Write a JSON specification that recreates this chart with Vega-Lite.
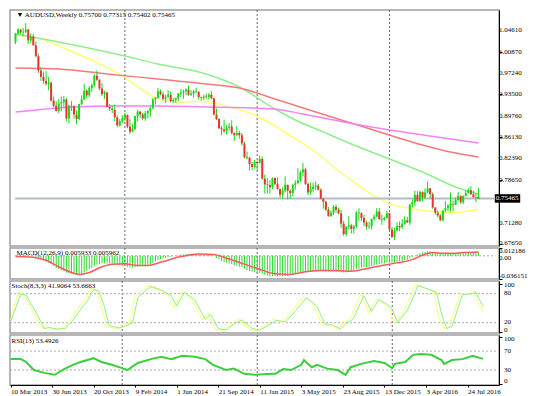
{
"$schema":"https://vega.github.io/schema/vega-lite/v6.json",
"padding":{"left":5,"top":8,"right":0,"bottom":0},
"background":"white",
"bounds":"flush",
"spacing":2,
"config":{"view":{"stroke":"#a0a0a0","strokeWidth":1.5},"axis":{"labelFont":"Liberation Serif","labelFontSize":7,"labelColor":"#000","tickColor":"#000","domainColor":"#000","grid":false,"tickSize":3,"labelPadding":2,"labelOverlap":false},"text":{"font":"Liberation Serif","fontSize":7,"color":"#000"}},
"datasets":{
"k":[
{"d":"2013-03-10","o":1.025,"h":1.041,"l":1.022,"c":1.040,"m":0.0},
{"d":"2013-03-17","o":1.040,"h":1.049,"l":1.038,"c":1.047,"m":0.001},
{"d":"2013-03-24","o":1.047,"h":1.048,"l":1.039,"c":1.042,"m":0.001},
{"d":"2013-03-31","o":1.042,"h":1.050,"l":1.035,"c":1.043,"m":0.001},
{"d":"2013-04-07","o":1.043,"h":1.058,"l":1.041,"c":1.047,"m":0.001},
{"d":"2013-04-14","o":1.047,"h":1.048,"l":1.022,"c":1.028,"m":0.0},
{"d":"2013-04-21","o":1.028,"h":1.040,"l":1.023,"c":1.035,"m":-0.0005},
{"d":"2013-04-28","o":1.035,"h":1.039,"l":1.018,"c":1.020,"m":-0.001},
{"d":"2013-05-05","o":1.020,"h":1.026,"l":0.999,"c":1.001,"m":-0.001},
{"d":"2013-05-12","o":1.001,"h":1.005,"l":0.972,"c":0.976,"m":-0.002},
{"d":"2013-05-19","o":0.976,"h":0.982,"l":0.958,"c":0.965,"m":-0.004},
{"d":"2013-05-26","o":0.965,"h":0.974,"l":0.953,"c":0.958,"m":-0.007},
{"d":"2013-06-02","o":0.958,"h":0.975,"l":0.950,"c":0.953,"m":-0.009},
{"d":"2013-06-09","o":0.953,"h":0.965,"l":0.942,"c":0.955,"m":-0.011},
{"d":"2013-06-16","o":0.955,"h":0.957,"l":0.922,"c":0.924,"m":-0.013},
{"d":"2013-06-23","o":0.924,"h":0.931,"l":0.912,"c":0.915,"m":-0.016},
{"d":"2013-06-30","o":0.915,"h":0.923,"l":0.905,"c":0.906,"m":-0.019},
{"d":"2013-07-07","o":0.906,"h":0.927,"l":0.902,"c":0.919,"m":-0.021},
{"d":"2013-07-14","o":0.919,"h":0.931,"l":0.906,"c":0.921,"m":-0.023},
{"d":"2013-07-21","o":0.921,"h":0.932,"l":0.913,"c":0.926,"m":-0.024},
{"d":"2013-07-28","o":0.926,"h":0.929,"l":0.888,"c":0.893,"m":-0.026},
{"d":"2013-08-04","o":0.893,"h":0.917,"l":0.885,"c":0.915,"m":-0.027},
{"d":"2013-08-11","o":0.915,"h":0.923,"l":0.906,"c":0.914,"m":-0.028},
{"d":"2013-08-18","o":0.914,"h":0.916,"l":0.893,"c":0.900,"m":-0.029},
{"d":"2013-08-25","o":0.900,"h":0.907,"l":0.883,"c":0.892,"m":-0.030},
{"d":"2013-09-01","o":0.892,"h":0.918,"l":0.890,"c":0.918,"m":-0.030},
{"d":"2013-09-08","o":0.918,"h":0.933,"l":0.916,"c":0.926,"m":-0.028},
{"d":"2013-09-15","o":0.926,"h":0.953,"l":0.925,"c":0.941,"m":-0.026},
{"d":"2013-09-22","o":0.941,"h":0.944,"l":0.928,"c":0.933,"m":-0.024},
{"d":"2013-09-29","o":0.933,"h":0.949,"l":0.930,"c":0.946,"m":-0.021},
{"d":"2013-10-06","o":0.946,"h":0.953,"l":0.939,"c":0.951,"m":-0.019},
{"d":"2013-10-13","o":0.951,"h":0.970,"l":0.947,"c":0.967,"m":-0.016},
{"d":"2013-10-20","o":0.967,"h":0.976,"l":0.958,"c":0.960,"m":-0.014},
{"d":"2013-10-27","o":0.960,"h":0.961,"l":0.942,"c":0.945,"m":-0.013},
{"d":"2013-11-03","o":0.945,"h":0.954,"l":0.932,"c":0.935,"m":-0.012},
{"d":"2013-11-10","o":0.935,"h":0.941,"l":0.927,"c":0.938,"m":-0.012},
{"d":"2013-11-17","o":0.938,"h":0.939,"l":0.911,"c":0.913,"m":-0.012},
{"d":"2013-11-24","o":0.913,"h":0.918,"l":0.906,"c":0.910,"m":-0.012},
{"d":"2013-12-01","o":0.910,"h":0.916,"l":0.902,"c":0.908,"m":-0.012},
{"d":"2013-12-08","o":0.908,"h":0.917,"l":0.888,"c":0.895,"m":-0.013},
{"d":"2013-12-15","o":0.895,"h":0.898,"l":0.878,"c":0.881,"m":-0.014},
{"d":"2013-12-22","o":0.881,"h":0.892,"l":0.879,"c":0.888,"m":-0.015},
{"d":"2013-12-29","o":0.888,"h":0.899,"l":0.885,"c":0.894,"m":-0.016},
{"d":"2014-01-05","o":0.894,"h":0.903,"l":0.889,"c":0.899,"m":-0.016},
{"d":"2014-01-12","o":0.899,"h":0.900,"l":0.876,"c":0.879,"m":-0.017},
{"d":"2014-01-19","o":0.879,"h":0.892,"l":0.866,"c":0.870,"m":-0.018},
{"d":"2014-01-26","o":0.870,"h":0.884,"l":0.869,"c":0.875,"m":-0.018},
{"d":"2014-02-02","o":0.875,"h":0.898,"l":0.873,"c":0.897,"m":-0.018},
{"d":"2014-02-09","o":0.897,"h":0.908,"l":0.888,"c":0.905,"m":-0.017},
{"d":"2014-02-16","o":0.905,"h":0.906,"l":0.894,"c":0.900,"m":-0.016},
{"d":"2014-02-23","o":0.900,"h":0.903,"l":0.890,"c":0.893,"m":-0.016},
{"d":"2014-03-02","o":0.893,"h":0.906,"l":0.889,"c":0.902,"m":-0.015},
{"d":"2014-03-09","o":0.902,"h":0.907,"l":0.893,"c":0.906,"m":-0.014},
{"d":"2014-03-16","o":0.906,"h":0.914,"l":0.896,"c":0.911,"m":-0.013},
{"d":"2014-03-23","o":0.911,"h":0.928,"l":0.909,"c":0.926,"m":-0.011},
{"d":"2014-03-30","o":0.926,"h":0.930,"l":0.917,"c":0.929,"m":-0.009},
{"d":"2014-04-06","o":0.929,"h":0.946,"l":0.927,"c":0.940,"m":-0.007},
{"d":"2014-04-13","o":0.940,"h":0.943,"l":0.933,"c":0.935,"m":-0.005},
{"d":"2014-04-20","o":0.935,"h":0.939,"l":0.924,"c":0.927,"m":-0.004},
{"d":"2014-04-27","o":0.927,"h":0.934,"l":0.920,"c":0.930,"m":-0.003},
{"d":"2014-05-04","o":0.930,"h":0.942,"l":0.929,"c":0.934,"m":-0.002},
{"d":"2014-05-11","o":0.934,"h":0.940,"l":0.921,"c":0.923,"m":-0.001},
{"d":"2014-05-18","o":0.923,"h":0.929,"l":0.920,"c":0.925,"m":0.0},
{"d":"2014-05-25","o":0.925,"h":0.929,"l":0.920,"c":0.928,"m":0.0005},
{"d":"2014-06-01","o":0.928,"h":0.937,"l":0.923,"c":0.936,"m":0.001},
{"d":"2014-06-08","o":0.936,"h":0.944,"l":0.930,"c":0.938,"m":0.002},
{"d":"2014-06-15","o":0.938,"h":0.943,"l":0.927,"c":0.940,"m":0.002},
{"d":"2014-06-22","o":0.940,"h":0.945,"l":0.933,"c":0.943,"m":0.003},
{"d":"2014-06-29","o":0.943,"h":0.950,"l":0.932,"c":0.934,"m":0.003},
{"d":"2014-07-06","o":0.934,"h":0.942,"l":0.932,"c":0.936,"m":0.003},
{"d":"2014-07-13","o":0.936,"h":0.942,"l":0.929,"c":0.940,"m":0.003},
{"d":"2014-07-20","o":0.940,"h":0.946,"l":0.937,"c":0.939,"m":0.003},
{"d":"2014-07-27","o":0.939,"h":0.940,"l":0.926,"c":0.930,"m":0.003},
{"d":"2014-08-03","o":0.930,"h":0.931,"l":0.924,"c":0.929,"m":0.002},
{"d":"2014-08-10","o":0.929,"h":0.934,"l":0.925,"c":0.931,"m":0.002},
{"d":"2014-08-17","o":0.931,"h":0.936,"l":0.927,"c":0.930,"m":0.002},
{"d":"2014-08-24","o":0.930,"h":0.937,"l":0.926,"c":0.934,"m":0.002},
{"d":"2014-08-31","o":0.934,"h":0.940,"l":0.926,"c":0.928,"m":0.002},
{"d":"2014-09-07","o":0.928,"h":0.929,"l":0.898,"c":0.900,"m":0.0},
{"d":"2014-09-14","o":0.900,"h":0.910,"l":0.890,"c":0.892,"m":-0.003},
{"d":"2014-09-21","o":0.892,"h":0.894,"l":0.875,"c":0.876,"m":-0.005},
{"d":"2014-09-28","o":0.876,"h":0.880,"l":0.864,"c":0.874,"m":-0.008},
{"d":"2014-10-05","o":0.874,"h":0.891,"l":0.868,"c":0.871,"m":-0.010},
{"d":"2014-10-12","o":0.871,"h":0.882,"l":0.865,"c":0.877,"m":-0.011},
{"d":"2014-10-19","o":0.877,"h":0.885,"l":0.872,"c":0.879,"m":-0.012},
{"d":"2014-10-26","o":0.879,"h":0.890,"l":0.865,"c":0.868,"m":-0.013},
{"d":"2014-11-02","o":0.868,"h":0.869,"l":0.854,"c":0.864,"m":-0.015},
{"d":"2014-11-09","o":0.864,"h":0.880,"l":0.863,"c":0.868,"m":-0.016},
{"d":"2014-11-16","o":0.868,"h":0.872,"l":0.858,"c":0.864,"m":-0.017},
{"d":"2014-11-23","o":0.864,"h":0.868,"l":0.846,"c":0.850,"m":-0.018},
{"d":"2014-11-30","o":0.850,"h":0.853,"l":0.824,"c":0.826,"m":-0.020},
{"d":"2014-12-07","o":0.826,"h":0.836,"l":0.822,"c":0.825,"m":-0.022},
{"d":"2014-12-14","o":0.825,"h":0.827,"l":0.803,"c":0.814,"m":-0.024},
{"d":"2014-12-21","o":0.814,"h":0.818,"l":0.804,"c":0.809,"m":-0.025},
{"d":"2014-12-28","o":0.809,"h":0.821,"l":0.806,"c":0.818,"m":-0.026},
{"d":"2015-01-04","o":0.818,"h":0.820,"l":0.803,"c":0.816,"m":-0.027},
{"d":"2015-01-11","o":0.816,"h":0.829,"l":0.815,"c":0.823,"m":-0.027},
{"d":"2015-01-18","o":0.823,"h":0.827,"l":0.787,"c":0.789,"m":-0.028},
{"d":"2015-01-25","o":0.789,"h":0.796,"l":0.763,"c":0.779,"m":-0.030},
{"d":"2015-02-01","o":0.779,"h":0.790,"l":0.763,"c":0.778,"m":-0.031},
{"d":"2015-02-08","o":0.778,"h":0.786,"l":0.763,"c":0.774,"m":-0.032},
{"d":"2015-02-15","o":0.774,"h":0.791,"l":0.771,"c":0.790,"m":-0.032},
{"d":"2015-02-22","o":0.790,"h":0.791,"l":0.777,"c":0.780,"m":-0.032},
{"d":"2015-03-01","o":0.780,"h":0.791,"l":0.770,"c":0.771,"m":-0.032},
{"d":"2015-03-08","o":0.771,"h":0.772,"l":0.756,"c":0.761,"m":-0.032},
{"d":"2015-03-15","o":0.761,"h":0.774,"l":0.754,"c":0.768,"m":-0.032},
{"d":"2015-03-22","o":0.768,"h":0.793,"l":0.765,"c":0.778,"m":-0.031},
{"d":"2015-03-29","o":0.778,"h":0.779,"l":0.753,"c":0.768,"m":-0.031},
{"d":"2015-04-05","o":0.768,"h":0.770,"l":0.754,"c":0.764,"m":-0.030},
{"d":"2015-04-12","o":0.764,"h":0.780,"l":0.758,"c":0.778,"m":-0.029},
{"d":"2015-04-19","o":0.778,"h":0.786,"l":0.770,"c":0.781,"m":-0.028},
{"d":"2015-04-26","o":0.781,"h":0.807,"l":0.780,"c":0.786,"m":-0.027},
{"d":"2015-05-03","o":0.786,"h":0.803,"l":0.783,"c":0.800,"m":-0.026},
{"d":"2015-05-10","o":0.800,"h":0.816,"l":0.793,"c":0.805,"m":-0.025},
{"d":"2015-05-17","o":0.805,"h":0.808,"l":0.778,"c":0.780,"m":-0.025},
{"d":"2015-05-24","o":0.780,"h":0.782,"l":0.760,"c":0.765,"m":-0.025},
{"d":"2015-05-31","o":0.765,"h":0.782,"l":0.761,"c":0.771,"m":-0.025},
{"d":"2015-06-07","o":0.771,"h":0.782,"l":0.765,"c":0.775,"m":-0.025},
{"d":"2015-06-14","o":0.775,"h":0.784,"l":0.769,"c":0.777,"m":-0.024},
{"d":"2015-06-21","o":0.777,"h":0.780,"l":0.768,"c":0.770,"m":-0.024},
{"d":"2015-06-28","o":0.770,"h":0.772,"l":0.753,"c":0.754,"m":-0.024},
{"d":"2015-07-05","o":0.754,"h":0.756,"l":0.737,"c":0.749,"m":-0.024},
{"d":"2015-07-12","o":0.749,"h":0.751,"l":0.733,"c":0.735,"m":-0.025},
{"d":"2015-07-19","o":0.735,"h":0.740,"l":0.723,"c":0.724,"m":-0.025},
{"d":"2015-07-26","o":0.724,"h":0.734,"l":0.723,"c":0.730,"m":-0.025},
{"d":"2015-08-02","o":0.730,"h":0.743,"l":0.726,"c":0.740,"m":-0.025},
{"d":"2015-08-09","o":0.740,"h":0.744,"l":0.730,"c":0.735,"m":-0.025},
{"d":"2015-08-16","o":0.735,"h":0.739,"l":0.727,"c":0.729,"m":-0.025},
{"d":"2015-08-23","o":0.729,"h":0.735,"l":0.704,"c":0.711,"m":-0.026},
{"d":"2015-08-30","o":0.711,"h":0.716,"l":0.690,"c":0.693,"m":-0.026},
{"d":"2015-09-06","o":0.693,"h":0.707,"l":0.689,"c":0.706,"m":-0.026},
{"d":"2015-09-13","o":0.706,"h":0.724,"l":0.701,"c":0.708,"m":-0.025},
{"d":"2015-09-20","o":0.708,"h":0.711,"l":0.694,"c":0.702,"m":-0.024},
{"d":"2015-09-27","o":0.702,"h":0.709,"l":0.694,"c":0.706,"m":-0.023},
{"d":"2015-10-04","o":0.706,"h":0.733,"l":0.704,"c":0.730,"m":-0.021},
{"d":"2015-10-11","o":0.730,"h":0.738,"l":0.716,"c":0.729,"m":-0.020},
{"d":"2015-10-18","o":0.729,"h":0.731,"l":0.716,"c":0.721,"m":-0.019},
{"d":"2015-10-25","o":0.721,"h":0.726,"l":0.707,"c":0.713,"m":-0.018},
{"d":"2015-11-01","o":0.713,"h":0.716,"l":0.701,"c":0.706,"m":-0.018},
{"d":"2015-11-08","o":0.706,"h":0.714,"l":0.702,"c":0.707,"m":-0.017},
{"d":"2015-11-15","o":0.707,"h":0.720,"l":0.701,"c":0.719,"m":-0.016},
{"d":"2015-11-22","o":0.719,"h":0.727,"l":0.716,"c":0.723,"m":-0.015},
{"d":"2015-11-29","o":0.723,"h":0.738,"l":0.722,"c":0.732,"m":-0.014},
{"d":"2015-12-06","o":0.732,"h":0.738,"l":0.717,"c":0.719,"m":-0.013},
{"d":"2015-12-13","o":0.719,"h":0.727,"l":0.709,"c":0.718,"m":-0.012},
{"d":"2015-12-20","o":0.718,"h":0.723,"l":0.716,"c":0.721,"m":-0.012},
{"d":"2015-12-27","o":0.721,"h":0.733,"l":0.720,"c":0.729,"m":-0.011},
{"d":"2016-01-03","o":0.729,"h":0.730,"l":0.699,"c":0.701,"m":-0.011},
{"d":"2016-01-10","o":0.701,"h":0.705,"l":0.686,"c":0.688,"m":-0.011},
{"d":"2016-01-17","o":0.688,"h":0.704,"l":0.683,"c":0.699,"m":-0.011},
{"d":"2016-01-24","o":0.699,"h":0.713,"l":0.698,"c":0.707,"m":-0.010},
{"d":"2016-01-31","o":0.707,"h":0.715,"l":0.698,"c":0.705,"m":-0.009},
{"d":"2016-02-07","o":0.705,"h":0.719,"l":0.702,"c":0.711,"m":-0.008},
{"d":"2016-02-14","o":0.711,"h":0.724,"l":0.709,"c":0.717,"m":-0.007},
{"d":"2016-02-21","o":0.717,"h":0.723,"l":0.712,"c":0.713,"m":-0.006},
{"d":"2016-02-28","o":0.713,"h":0.745,"l":0.709,"c":0.744,"m":-0.004},
{"d":"2016-03-06","o":0.744,"h":0.753,"l":0.739,"c":0.748,"m":-0.002},
{"d":"2016-03-13","o":0.748,"h":0.768,"l":0.741,"c":0.761,"m":0.0},
{"d":"2016-03-20","o":0.761,"h":0.768,"l":0.749,"c":0.750,"m":0.002},
{"d":"2016-03-27","o":0.750,"h":0.768,"l":0.749,"c":0.766,"m":0.004},
{"d":"2016-04-03","o":0.766,"h":0.767,"l":0.750,"c":0.756,"m":0.005},
{"d":"2016-04-10","o":0.756,"h":0.772,"l":0.754,"c":0.765,"m":0.006},
{"d":"2016-04-17","o":0.765,"h":0.784,"l":0.764,"c":0.772,"m":0.007},
{"d":"2016-04-24","o":0.772,"h":0.773,"l":0.755,"c":0.762,"m":0.007},
{"d":"2016-05-01","o":0.762,"h":0.765,"l":0.737,"c":0.739,"m":0.006},
{"d":"2016-05-08","o":0.739,"h":0.740,"l":0.726,"c":0.730,"m":0.005},
{"d":"2016-05-15","o":0.730,"h":0.734,"l":0.722,"c":0.725,"m":0.004},
{"d":"2016-05-22","o":0.725,"h":0.728,"l":0.715,"c":0.717,"m":0.003},
{"d":"2016-05-29","o":0.717,"h":0.734,"l":0.715,"c":0.734,"m":0.003},
{"d":"2016-06-05","o":0.734,"h":0.750,"l":0.731,"c":0.738,"m":0.003},
{"d":"2016-06-12","o":0.738,"h":0.745,"l":0.733,"c":0.742,"m":0.003},
{"d":"2016-06-19","o":0.742,"h":0.765,"l":0.732,"c":0.745,"m":0.004},
{"d":"2016-06-26","o":0.745,"h":0.751,"l":0.732,"c":0.744,"m":0.004},
{"d":"2016-07-03","o":0.744,"h":0.756,"l":0.743,"c":0.752,"m":0.004},
{"d":"2016-07-10","o":0.752,"h":0.766,"l":0.750,"c":0.759,"m":0.005},
{"d":"2016-07-17","o":0.759,"h":0.760,"l":0.745,"c":0.748,"m":0.005},
{"d":"2016-07-24","o":0.748,"h":0.760,"l":0.745,"c":0.759,"m":0.005},
{"d":"2016-07-31","o":0.759,"h":0.769,"l":0.758,"c":0.764,"m":0.006},
{"d":"2016-08-07","o":0.764,"h":0.773,"l":0.763,"c":0.769,"m":0.006},
{"d":"2016-08-14","o":0.769,"h":0.776,"l":0.760,"c":0.762,"m":0.006},
{"d":"2016-08-21","o":0.762,"h":0.768,"l":0.756,"c":0.757,"m":0.006},
{"d":"2016-08-28","o":0.757,"h":0.764,"l":0.748,"c":0.756,"m":0.006},
{"d":"2016-09-04","o":0.757,"h":0.77315,"l":0.75402,"c":0.75465,"m":0.005933}
],
"ma":[
{"d":"2013-03-10","n":"a","v":1.0375},{"d":"2013-05-19","n":"a","v":1.0305},{"d":"2013-07-28","n":"a","v":1.013},{"d":"2013-10-06","n":"a","v":0.994},{"d":"2013-12-29","n":"a","v":0.967},{"d":"2014-02-23","n":"a","v":0.942},{"d":"2014-04-06","n":"a","v":0.927},{"d":"2014-06-01","n":"a","v":0.921},{"d":"2014-07-27","n":"a","v":0.923},{"d":"2014-09-07","n":"a","v":0.920},{"d":"2014-11-02","n":"a","v":0.911},{"d":"2014-12-28","n":"a","v":0.899},{"d":"2015-02-22","n":"a","v":0.880},{"d":"2015-04-19","n":"a","v":0.858},{"d":"2015-06-14","n":"a","v":0.835},{"d":"2015-08-09","n":"a","v":0.806},{"d":"2015-10-04","n":"a","v":0.780},{"d":"2015-11-29","n":"a","v":0.756},{"d":"2016-01-10","n":"a","v":0.744},{"d":"2016-03-06","n":"a","v":0.737},{"d":"2016-05-01","n":"a","v":0.732},{"d":"2016-06-26","n":"a","v":0.730},{"d":"2016-09-04","n":"a","v":0.736},
{"d":"2013-03-10","n":"b","v":1.0392},{"d":"2013-07-07","n":"b","v":1.0253},{"d":"2013-11-17","n":"b","v":1.008},{"d":"2014-01-05","n":"b","v":1.0011},{"d":"2014-04-06","n":"b","v":0.9873},{"d":"2014-08-17","n":"b","v":0.970},{"d":"2014-11-16","n":"b","v":0.9475},{"d":"2015-02-22","n":"b","v":0.9094},{"d":"2015-04-19","n":"b","v":0.8904},{"d":"2015-07-05","n":"b","v":0.8696},{"d":"2015-09-27","n":"b","v":0.8471},{"d":"2016-01-03","n":"b","v":0.8229},{"d":"2016-04-03","n":"b","v":0.8004},{"d":"2016-07-10","n":"b","v":0.7728},{"d":"2016-09-04","n":"b","v":0.7624},
{"d":"2013-03-10","n":"c","v":0.9804},{"d":"2013-07-07","n":"c","v":0.9786},{"d":"2013-11-17","n":"c","v":0.970},{"d":"2014-04-06","n":"c","v":0.9613},{"d":"2014-08-17","n":"c","v":0.9527},{"d":"2014-11-16","n":"c","v":0.9458},{"d":"2015-02-22","n":"c","v":0.9267},{"d":"2015-05-10","n":"c","v":0.9112},{"d":"2015-08-23","n":"c","v":0.8904},{"d":"2015-10-25","n":"c","v":0.8783},{"d":"2016-01-03","n":"c","v":0.8644},{"d":"2016-04-03","n":"c","v":0.8471},{"d":"2016-06-19","n":"c","v":0.835},{"d":"2016-09-04","n":"c","v":0.8264},
{"d":"2013-03-10","n":"e","v":0.9042},{"d":"2013-07-07","n":"e","v":0.9112},{"d":"2013-11-17","n":"e","v":0.9146},{"d":"2014-04-06","n":"e","v":0.9146},{"d":"2014-08-17","n":"e","v":0.9129},{"d":"2014-12-28","n":"e","v":0.9112},{"d":"2015-02-22","n":"e","v":0.9094},{"d":"2015-05-10","n":"e","v":0.9008},{"d":"2015-08-30","n":"e","v":0.8869},{"d":"2016-01-03","n":"e","v":0.8731},{"d":"2016-04-24","n":"e","v":0.8627},{"d":"2016-09-04","n":"e","v":0.8506}
],
"sig":[
{"d":"2013-03-10","s":-0.001},{"d":"2013-04-21","s":-0.002},{"d":"2013-06-02","s":-0.007},{"d":"2013-07-07","s":-0.017},{"d":"2013-08-11","s":-0.026},{"d":"2013-09-01","s":-0.029},{"d":"2013-09-29","s":-0.026},{"d":"2013-11-03","s":-0.017},{"d":"2013-12-01","s":-0.013},{"d":"2014-01-05","s":-0.0125},{"d":"2014-02-09","s":-0.015},{"d":"2014-03-09","s":-0.015},{"d":"2014-04-20","s":-0.009},{"d":"2014-06-01","s":-0.002},{"d":"2014-06-29","s":0.001},{"d":"2014-07-27","s":0.003},{"d":"2014-09-07","s":0.002},{"d":"2014-10-19","s":-0.005},{"d":"2014-11-30","s":-0.013},{"d":"2015-01-11","s":-0.021},{"d":"2015-02-22","s":-0.028},{"d":"2015-04-05","s":-0.029},{"d":"2015-05-17","s":-0.025},{"d":"2015-06-28","s":-0.023},{"d":"2015-08-09","s":-0.023},{"d":"2015-09-20","s":-0.024},{"d":"2015-11-01","s":-0.020},{"d":"2015-12-13","s":-0.015},{"d":"2016-01-24","s":-0.011},{"d":"2016-03-06","s":-0.006},{"d":"2016-04-03","s":0.001},{"d":"2016-05-01","s":0.005},{"d":"2016-05-29","s":0.004},{"d":"2016-06-26","s":0.004},{"d":"2016-07-24","s":0.005},{"d":"2016-09-04","s":0.005962}
],
"st":[
{"d":"2013-03-10","n":"K","v":25},{"d":"2013-03-31","n":"K","v":84},{"d":"2013-04-14","n":"K","v":80},{"d":"2013-05-12","n":"K","v":40},{"d":"2013-06-02","n":"K","v":8},{"d":"2013-06-16","n":"K","v":12},{"d":"2013-07-07","n":"K","v":6},{"d":"2013-07-28","n":"K","v":8},{"d":"2013-08-18","n":"K","v":25},{"d":"2013-09-08","n":"K","v":50},{"d":"2013-09-29","n":"K","v":70},{"d":"2013-10-13","n":"K","v":92},{"d":"2013-10-27","n":"K","v":86},{"d":"2013-11-10","n":"K","v":55},{"d":"2013-11-24","n":"K","v":12},{"d":"2013-12-22","n":"K","v":8},{"d":"2014-01-12","n":"K","v":16},{"d":"2014-01-26","n":"K","v":18},{"d":"2014-02-09","n":"K","v":75},{"d":"2014-03-16","n":"K","v":97},{"d":"2014-04-13","n":"K","v":88},{"d":"2014-05-11","n":"K","v":76},{"d":"2014-05-25","n":"K","v":50},{"d":"2014-06-15","n":"K","v":86},{"d":"2014-07-13","n":"K","v":66},{"d":"2014-08-10","n":"K","v":25},{"d":"2014-08-24","n":"K","v":40},{"d":"2014-09-14","n":"K","v":6},{"d":"2014-10-05","n":"K","v":4},{"d":"2014-10-26","n":"K","v":18},{"d":"2014-11-16","n":"K","v":28},{"d":"2014-12-14","n":"K","v":6},{"d":"2015-01-04","n":"K","v":4},{"d":"2015-02-08","n":"K","v":22},{"d":"2015-02-15","n":"K","v":28},{"d":"2015-03-15","n":"K","v":20},{"d":"2015-04-12","n":"K","v":48},{"d":"2015-05-10","n":"K","v":74},{"d":"2015-06-07","n":"K","v":52},{"d":"2015-06-28","n":"K","v":15},{"d":"2015-07-19","n":"K","v":14},{"d":"2015-08-09","n":"K","v":5},{"d":"2015-08-23","n":"K","v":18},{"d":"2015-09-13","n":"K","v":30},{"d":"2015-10-11","n":"K","v":80},{"d":"2015-11-01","n":"K","v":40},{"d":"2015-11-22","n":"K","v":70},{"d":"2015-12-13","n":"K","v":58},{"d":"2015-12-27","n":"K","v":48},{"d":"2016-01-10","n":"K","v":16},{"d":"2016-02-07","n":"K","v":50},{"d":"2016-03-06","n":"K","v":99},{"d":"2016-04-03","n":"K","v":90},{"d":"2016-04-24","n":"K","v":86},{"d":"2016-05-08","n":"K","v":30},{"d":"2016-05-22","n":"K","v":5},{"d":"2016-06-05","n":"K","v":12},{"d":"2016-07-03","n":"K","v":80},{"d":"2016-07-31","n":"K","v":80},{"d":"2016-08-07","n":"K","v":86},{"d":"2016-09-04","n":"K","v":41.9},
{"d":"2013-03-10","n":"D","v":22},{"d":"2013-04-07","n":"D","v":79},{"d":"2013-04-21","n":"D","v":77},{"d":"2013-05-19","n":"D","v":40},{"d":"2013-06-09","n":"D","v":8},{"d":"2013-06-23","n":"D","v":10},{"d":"2013-07-14","n":"D","v":7},{"d":"2013-08-04","n":"D","v":8},{"d":"2013-08-25","n":"D","v":24},{"d":"2013-09-15","n":"D","v":48},{"d":"2013-10-06","n":"D","v":68},{"d":"2013-10-20","n":"D","v":89},{"d":"2013-11-03","n":"D","v":85},{"d":"2013-11-17","n":"D","v":56},{"d":"2013-12-01","n":"D","v":14},{"d":"2013-12-29","n":"D","v":9},{"d":"2014-01-19","n":"D","v":15},{"d":"2014-02-02","n":"D","v":20},{"d":"2014-02-16","n":"D","v":72},{"d":"2014-03-23","n":"D","v":95},{"d":"2014-04-20","n":"D","v":88},{"d":"2014-05-18","n":"D","v":75},{"d":"2014-06-01","n":"D","v":55},{"d":"2014-06-22","n":"D","v":83},{"d":"2014-07-20","n":"D","v":67},{"d":"2014-08-17","n":"D","v":27},{"d":"2014-08-31","n":"D","v":38},{"d":"2014-09-21","n":"D","v":8},{"d":"2014-10-12","n":"D","v":5},{"d":"2014-11-02","n":"D","v":17},{"d":"2014-11-23","n":"D","v":26},{"d":"2014-12-21","n":"D","v":8},{"d":"2015-01-11","n":"D","v":5},{"d":"2015-02-15","n":"D","v":20},{"d":"2015-02-22","n":"D","v":25},{"d":"2015-03-22","n":"D","v":22},{"d":"2015-04-19","n":"D","v":46},{"d":"2015-05-17","n":"D","v":72},{"d":"2015-06-14","n":"D","v":54},{"d":"2015-07-05","n":"D","v":18},{"d":"2015-07-26","n":"D","v":15},{"d":"2015-08-16","n":"D","v":7},{"d":"2015-08-30","n":"D","v":17},{"d":"2015-09-20","n":"D","v":28},{"d":"2015-10-18","n":"D","v":76},{"d":"2015-11-08","n":"D","v":44},{"d":"2015-11-29","n":"D","v":68},{"d":"2015-12-20","n":"D","v":58},{"d":"2016-01-03","n":"D","v":49},{"d":"2016-01-17","n":"D","v":20},{"d":"2016-02-14","n":"D","v":48},{"d":"2016-03-13","n":"D","v":97},{"d":"2016-04-10","n":"D","v":89},{"d":"2016-05-01","n":"D","v":83},{"d":"2016-05-15","n":"D","v":38},{"d":"2016-05-29","n":"D","v":8},{"d":"2016-06-12","n":"D","v":12},{"d":"2016-07-10","n":"D","v":78},{"d":"2016-08-07","n":"D","v":80},{"d":"2016-08-14","n":"D","v":84},{"d":"2016-09-04","n":"D","v":53.7}
],
"rs":[
{"d":"2013-03-10","v":53},{"d":"2013-04-07","v":53},{"d":"2013-04-21","v":47},{"d":"2013-05-12","v":30},{"d":"2013-06-09","v":24},{"d":"2013-07-07","v":20},{"d":"2013-08-04","v":33},{"d":"2013-08-25","v":41},{"d":"2013-09-15","v":47},{"d":"2013-10-20","v":55},{"d":"2013-11-10","v":47},{"d":"2013-12-08","v":41},{"d":"2014-01-05","v":34},{"d":"2014-01-19","v":30},{"d":"2014-02-16","v":45},{"d":"2014-03-23","v":53},{"d":"2014-04-20","v":58},{"d":"2014-05-18","v":53},{"d":"2014-06-15","v":60},{"d":"2014-07-20","v":58},{"d":"2014-08-17","v":53},{"d":"2014-09-07","v":41},{"d":"2014-10-12","v":30},{"d":"2014-11-02","v":33},{"d":"2014-11-30","v":22},{"d":"2014-12-28","v":20},{"d":"2015-02-15","v":22},{"d":"2015-02-22","v":22},{"d":"2015-03-15","v":32},{"d":"2015-04-05","v":30},{"d":"2015-05-03","v":41},{"d":"2015-05-10","v":51},{"d":"2015-05-31","v":36},{"d":"2015-06-14","v":41},{"d":"2015-07-12","v":33},{"d":"2015-08-09","v":30},{"d":"2015-08-30","v":20},{"d":"2015-09-13","v":36},{"d":"2015-10-11","v":43},{"d":"2015-11-15","v":49},{"d":"2015-12-13","v":45},{"d":"2016-01-03","v":34},{"d":"2016-01-10","v":43},{"d":"2016-02-07","v":47},{"d":"2016-02-28","v":62},{"d":"2016-03-20","v":64},{"d":"2016-04-17","v":62},{"d":"2016-05-15","v":51},{"d":"2016-05-22","v":43},{"d":"2016-06-12","v":51},{"d":"2016-07-10","v":53},{"d":"2016-08-07","v":60},{"d":"2016-09-04","v":53.49}
],
"yr":[{"d":"2014-01-05"},{"d":"2015-01-04"},{"d":"2016-01-03"}]
},
"vconcat":[
{"width":489,"height":236,
"encoding":{"x":{"field":"d","type":"temporal","title":null,"scale":{"type":"utc","domain":[1362752640000,1476636480000]},"axis":null}},
"layer":[
{"data":{"name":"yr"},"mark":{"type":"rule","color":"#666","strokeDash":[2,2],"strokeWidth":1},"encoding":{}},
{"data":{"name":"ma"},"mark":{"type":"line","strokeWidth":1.5,"interpolate":"monotone"},"encoding":{"y":{"field":"v","type":"quantitative","title":null,"scale":{"domain":[0.6724,1.0807],"zero":false,"nice":false},"axis":{"orient":"right","values":[1.0461,1.0087,0.9724,0.935,0.8976,0.8613,0.8239,0.7865,0.7128,0.6765],"labels":false}},"color":{"field":"n","type":"nominal","legend":null,"scale":{"domain":["a","b","c","e"],"range":["#ffff70","#8def8d","#f47a7a","#f283f2"]}}}},
{"data":{"values":[{"d":1362752640000,"d2":1476636480000,"p":0.75465}]},"mark":{"type":"rule","color":"#b4bcc6","strokeWidth":2},"encoding":{"x2":{"field":"d2"},"y":{"field":"p","type":"quantitative","title":null,"scale":{"domain":[0.6724,1.0807],"zero":false,"nice":false}}}},
{"data":{"name":"k"},"mark":{"type":"rule","color":"#18d818","strokeWidth":1},"encoding":{"y":{"field":"l","type":"quantitative","title":null,"scale":{"domain":[0.6724,1.0807],"zero":false,"nice":false}},"y2":{"field":"h"}}},
{"data":{"name":"k"},"mark":{"type":"bar","size":2},"encoding":{"y":{"field":"o","type":"quantitative","title":null,"scale":{"domain":[0.6724,1.0807],"zero":false,"nice":false}},"y2":{"field":"c"},"color":{"condition":{"test":"datum.c < datum.o","value":"#f03030"},"value":"#18d818"}}},
{"data":{"values":[{"d":"2013-03-10","v":1.072,"t":"▼ AUDUSD,Weekly  0.75700 0.77315 0.75402 0.75465"}]},"mark":{"type":"text","align":"left","baseline":"middle","dx":1},"encoding":{"y":{"field":"v","type":"quantitative","title":null,"scale":{"domain":[0.6724,1.0807],"zero":false,"nice":false}},"text":{"field":"t"}}},
{"data":{"values":[{"d":1476636480000,"v":1.0461,"t":"1.04610"},{"d":1476636480000,"v":1.0087,"t":"1.00870"},{"d":1476636480000,"v":0.9724,"t":"0.97240"},{"d":1476636480000,"v":0.935,"t":"0.93500"},{"d":1476636480000,"v":0.8976,"t":"0.89760"},{"d":1476636480000,"v":0.8613,"t":"0.86130"},{"d":1476636480000,"v":0.8239,"t":"0.82390"},{"d":1476636480000,"v":0.7865,"t":"0.78650"},{"d":1476636480000,"v":0.7128,"t":"0.71280"},{"d":1476636480000,"v":0.6772,"t":"0.67650"}]},"mark":{"type":"text","align":"left","baseline":"middle","dx":5},"encoding":{"y":{"field":"v","type":"quantitative","title":null,"scale":{"domain":[0.6724,1.0807],"zero":false,"nice":false}},"text":{"field":"t"}}},
{"data":{"values":[{"d":1476817920000,"d2":1482865920000,"p1":0.7473,"p2":0.762}]},"mark":{"type":"rect","color":"#000"},"encoding":{"x2":{"field":"d2"},"y":{"field":"p1","type":"quantitative","title":null,"scale":{"domain":[0.6724,1.0807],"zero":false,"nice":false}},"y2":{"field":"p2"}}},
{"data":{"values":[{"d":1476817920000,"p":0.75465,"t":"0.75465"}]},"mark":{"type":"text","align":"left","baseline":"middle","dx":1,"color":"#fff"},"encoding":{"y":{"field":"p","type":"quantitative","title":null,"scale":{"domain":[0.6724,1.0807],"zero":false,"nice":false}},"text":{"field":"t"}}}
]},
{"width":489,"height":31,
"encoding":{"x":{"field":"d","type":"temporal","title":null,"scale":{"type":"utc","domain":[1362752640000,1476636480000]},"axis":null}},
"layer":[
{"data":{"name":"yr"},"mark":{"type":"rule","color":"#666","strokeDash":[2,2],"strokeWidth":1},"encoding":{}},
{"data":{"values":[{"d":1362752640000,"d2":1476636480000,"z":0}]},"mark":{"type":"rule","color":"#aaa","strokeDash":[2,2],"strokeWidth":1},"encoding":{"x2":{"field":"d2"},"y":{"field":"z","type":"quantitative","title":null,"scale":{"domain":[-0.036151,0.012186],"zero":false,"nice":false},"axis":{"orient":"right","values":[0.012186,0,-0.036151],"labels":false}}}},
{"data":{"name":"k"},"mark":{"type":"bar","size":1,"color":"#2ed82e"},"encoding":{"y":{"field":"m","type":"quantitative","title":null,"scale":{"domain":[-0.036151,0.012186],"zero":false,"nice":false}},"y2":{"datum":0}}},
{"data":{"name":"sig"},"mark":{"type":"line","color":"#ff5a5a","strokeWidth":1.5,"interpolate":"monotone"},"encoding":{"y":{"field":"s","type":"quantitative","title":null,"scale":{"domain":[-0.036151,0.012186],"zero":false,"nice":false}}}},
{"data":{"values":[{"d":"2013-03-10","v":0.0045,"t":"MACD(12,26,9) 0.005933 0.005962"}]},"mark":{"type":"text","align":"left","baseline":"middle","dx":1},"encoding":{"y":{"field":"v","type":"quantitative","title":null,"scale":{"domain":[-0.036151,0.012186],"zero":false,"nice":false}},"text":{"field":"t"}}},
{"data":{"values":[{"d":1476636480000,"v":0.0076,"t":"0.012186"},{"d":1476636480000,"v":-0.0035,"t":"0.00"},{"d":1476636480000,"v":-0.0315,"t":"-0.036151"}]},"mark":{"type":"text","align":"left","baseline":"middle","dx":5},"encoding":{"y":{"field":"v","type":"quantitative","title":null,"scale":{"domain":[-0.036151,0.012186],"zero":false,"nice":false}},"text":{"field":"t"}}}
]},
{"width":489,"height":52,
"encoding":{"x":{"field":"d","type":"temporal","title":null,"scale":{"type":"utc","domain":[1362752640000,1476636480000]},"axis":null}},
"layer":[
{"data":{"name":"yr"},"mark":{"type":"rule","color":"#666","strokeDash":[2,2],"strokeWidth":1},"encoding":{}},
{"data":{"values":[{"d":1362752640000,"d2":1476636480000,"g":20},{"d":1362752640000,"d2":1476636480000,"g":80}]},"mark":{"type":"rule","color":"#aaa","strokeDash":[2,2],"strokeWidth":1},"encoding":{"x2":{"field":"d2"},"y":{"field":"g","type":"quantitative","title":null,"scale":{"domain":[-1.2,106.2],"zero":false,"nice":false},"axis":{"orient":"right","values":[0,20,80,100],"labels":false}}}},
{"data":{"name":"st"},"mark":{"type":"line","strokeWidth":1},"encoding":{"y":{"field":"v","type":"quantitative","title":null,"scale":{"domain":[-1.2,106.2],"zero":false,"nice":false}},"color":{"field":"n","type":"nominal","legend":null,"scale":{"domain":["K","D"],"range":["#30d030","#ff3c3c"]}}}},
{"data":{"values":[{"d":"2013-03-10","v":96,"t":"Stoch(8,3,3) 41.9064 53.6663"}]},"mark":{"type":"text","align":"left","baseline":"middle","dx":1},"encoding":{"y":{"field":"v","type":"quantitative","title":null,"scale":{"domain":[-1.2,106.2],"zero":false,"nice":false}},"text":{"field":"t"}}},
{"data":{"values":[{"d":1476636480000,"v":97,"t":"100"},{"d":1476636480000,"v":81,"t":"80"},{"d":1476636480000,"v":21,"t":"20"},{"d":1476636480000,"v":5,"t":"0"}]},"mark":{"type":"text","align":"left","baseline":"middle","dx":5},"encoding":{"y":{"field":"v","type":"quantitative","title":null,"scale":{"domain":[-1.2,106.2],"zero":false,"nice":false}},"text":{"field":"t"}}}
]},
{"width":489,"height":50,
"encoding":{"x":{"field":"d","type":"temporal","title":null,"scale":{"type":"utc","domain":[1362752640000,1476636480000]},"axis":{"orient":"bottom","values":[{"year":2013,"month":3,"date":10,"utc":true},{"year":2013,"month":6,"date":30,"utc":true},{"year":2013,"month":10,"date":20,"utc":true},{"year":2014,"month":2,"date":9,"utc":true},{"year":2014,"month":6,"date":1,"utc":true},{"year":2014,"month":9,"date":21,"utc":true},{"year":2015,"month":1,"date":11,"utc":true},{"year":2015,"month":5,"date":3,"utc":true},{"year":2015,"month":8,"date":23,"utc":true},{"year":2015,"month":12,"date":13,"utc":true},{"year":2016,"month":4,"date":3,"utc":true},{"year":2016,"month":7,"date":24,"utc":true}],"format":"%-d %b %Y","labelAlign":"left","labelBaseline":"top","labelOverlap":false,"labelBound":false,"labelFlush":false,"tickSize":2,"labelPadding":0}}},
"layer":[
{"data":{"name":"yr"},"mark":{"type":"rule","color":"#666","strokeDash":[2,2],"strokeWidth":1},"encoding":{}},
{"data":{"values":[{"d":1362752640000,"d2":1476636480000,"g":30},{"d":1362752640000,"d2":1476636480000,"g":70}]},"mark":{"type":"rule","color":"#aaa","strokeDash":[2,2],"strokeWidth":1},"encoding":{"x2":{"field":"d2"},"y":{"field":"g","type":"quantitative","title":null,"scale":{"domain":[-1.5,103.8],"zero":false,"nice":false},"axis":{"orient":"right","values":[0,30,70,100],"labels":false}}}},
{"data":{"name":"rs"},"mark":{"type":"line","color":"#3ccf3c","strokeWidth":2},"encoding":{"y":{"field":"v","type":"quantitative","title":null,"scale":{"domain":[-1.5,103.8],"zero":false,"nice":false}}}},
{"data":{"values":[{"d":"2013-03-10","v":91,"t":"RSI(13) 53.4926"}]},"mark":{"type":"text","align":"left","baseline":"middle","dx":1},"encoding":{"y":{"field":"v","type":"quantitative","title":null,"scale":{"domain":[-1.5,103.8],"zero":false,"nice":false}},"text":{"field":"t"}}},
{"data":{"values":[{"d":1476636480000,"v":95,"t":"100"},{"d":1476636480000,"v":70,"t":"70"},{"d":1476636480000,"v":30,"t":"30"},{"d":1476636480000,"v":7,"t":"0"}]},"mark":{"type":"text","align":"left","baseline":"middle","dx":5},"encoding":{"y":{"field":"v","type":"quantitative","title":null,"scale":{"domain":[-1.5,103.8],"zero":false,"nice":false}},"text":{"field":"t"}}}
]}
]
}
